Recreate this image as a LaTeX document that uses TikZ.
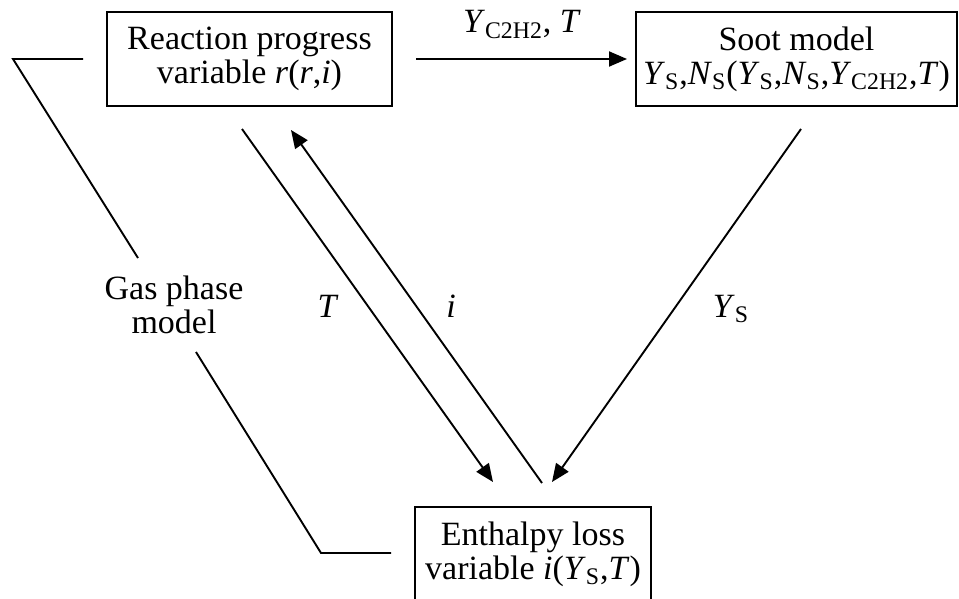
\documentclass[tikz,border=0pt]{standalone}
\usepackage{fontspec}
\setmainfont{Liberation Serif}
\usetikzlibrary{arrows.meta}
\newcommand{\ys}{\textit{Y}\textsubscript{S}}
\newcommand{\ns}{\textit{N}\textsubscript{S}}
\newcommand{\yc}{\textit{Y}\textsubscript{C2H2}}

\begin{document}
\begin{tikzpicture}[
  x=0.5pt, y=-0.5pt,
  font=\fontsize{17pt}{17pt}\selectfont,
  box/.style={draw, line width=1pt, inner sep=0pt, align=center,
              minimum height=47pt},
  lbl/.style={anchor=base, inner sep=0pt},
  arr/.style={-{Triangle[length=9pt,width=7.5pt]}, line width=0.95pt},
  ln/.style={line width=0.95pt}
]
  \useasboundingbox (0,0) rectangle (959,599);

  % the three models
  \node[box, minimum width=142.5pt] (rpv) at (249.5,59)
    {Reaction progress\\variable \textit{r}(\textit{r},\textit{i})};
  \node[box, minimum width=160.5pt] (soot) at (796.5,59)
    {Soot model\\\ys,\ns(\ys,\ns,\yc,\textit{T})};
  \node[box, minimum width=118pt] (enth) at (533,554)
    {Enthalpy loss\\variable \textit{i}(\ys,\textit{T})};
  \node[align=center, inner sep=0pt] (gas) at (174,305) {Gas phase\\model};

  % exchanged quantities
  \draw[arr] ([xshift=11.5pt]rpv.east) -- ([xshift=-4pt]soot.west);
  \node[lbl] (lc) at (522,33) {\yc, \textit{T}};

  \coordinate (tA) at (242,129); \coordinate (tB) at (493,482);
  \coordinate (iA) at (542,483); \coordinate (iB) at (291,130);
  \coordinate (yA) at (801,129); \coordinate (yB) at (552,482);
  \draw[arr] (tA) -- (tB);
  \draw[arr] (iA) -- (iB);
  \draw[arr] (yA) -- (yB);
  \node[lbl] (lt) at (328,317) {\textit{T}};
  \node[lbl] (li) at (451,317) {\textit{i}};
  \node[lbl] (ly) at (731,317) {\ys};

  % bracket of the gas phase model
  \coordinate (g1) at (13,59); \coordinate (g2) at (138,258);
  \coordinate (g3) at (196,352); \coordinate (g4) at (321,553);
  \draw[ln] ([xshift=-11.5pt]rpv.west) -- (g1) -- (g2);
  \draw[ln] (g3) -- (g4) -- ([xshift=-11.5pt]enth.west |- g4);
\end{tikzpicture}
\end{document}
